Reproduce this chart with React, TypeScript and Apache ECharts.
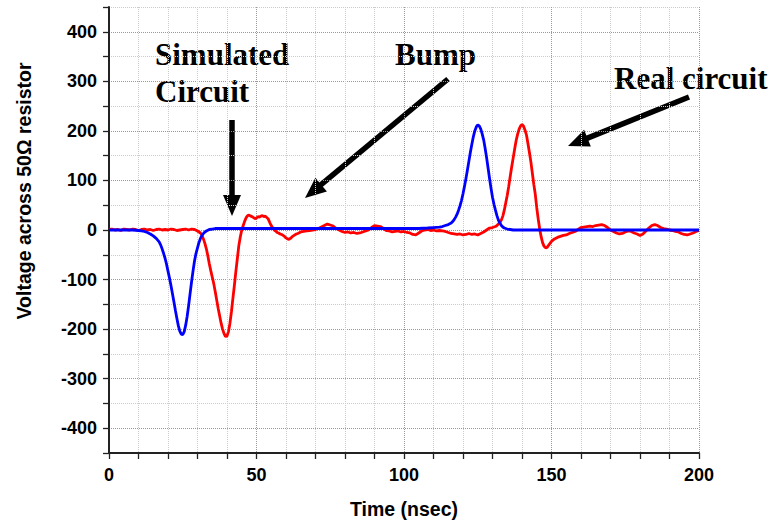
import React, { useEffect, useRef } from "react";
import * as echarts from "echarts";

// Measured (real circuit) trace: [time nsec, voltage]
const realCircuit: [number, number][] = [
  [0, 1], [1, 2], [2, 0], [3, 1], [4, -1], [5, 2], [6, 1], [7, 0], [8, 2], [9, 1],
  [10, -1], [11, 1], [12, 2], [13, 0], [14, 1], [15, -1], [16, 1], [17, 2], [18, 0], [19, 1],
  [20, 0], [21, 2], [22, 1], [23, -1], [24, 0], [25, 1], [26, 2], [27, 0], [28, 2], [29, 1],
  [30, -2], [30.5, -4], [31, -6], [31.5, -10], [32, -18], [32.5, -27], [33, -38], [33.5, -52],
  [34, -68], [34.5, -82], [35, -95], [35.5, -108], [36, -124], [36.5, -141], [37, -158],
  [37.5, -173], [38, -188], [38.5, -200], [39, -209], [39.5, -215], [40, -214], [40.5, -205],
  [41, -188], [41.5, -165], [42, -138], [42.5, -112], [43, -84], [43.5, -58], [44, -32],
  [44.5, -14], [45, 0], [45.5, 9], [46, 18], [46.5, 25], [47, 29], [47.5, 30], [48, 28],
  [48.5, 27], [49, 25], [49.5, 23], [50, 24], [50.5, 27], [51, 26], [51.5, 28], [52, 29],
  [52.5, 27], [53, 28], [53.5, 25], [54, 22], [54.5, 15], [55, 9], [55.5, 4], [56, 0],
  [56.5, -2], [57, -5], [57.5, -6], [58, -8], [58.5, -9], [59, -11], [59.5, -13], [60, -16],
  [60.5, -18], [61, -19], [61.5, -17], [62, -14], [62.5, -12], [63, -10], [63.5, -8], [64, -7],
  [65, -4], [66, -3], [67, -2], [68, -1], [69, 0], [70, 1], [71, 3], [72, 6], [73, 9], [74, 12],
  [75, 10], [76, 8], [77, 3], [78, 0], [79, -3], [80, -5], [81, -4], [82, -6], [83, -5], [84, -7],
  [85, -6], [86, -4], [87, -2], [88, 0], [89, 5], [90, 9], [91, 8], [92, 7], [93, 3], [94, -1],
  [95, -2], [96, -4], [97, -3], [98, -2], [99, -4], [100, -3], [101, -5], [102, -6], [103, -9],
  [104, -10], [105, -6], [106, -2], [107, 0], [108, 1], [109, -1], [110, 0], [111, -2], [112, -1],
  [113, -2], [114, -3], [115, -5], [116, -7], [117, -8], [118, -9], [119, -8], [120, -10],
  [121, -9], [122, -7], [123, -9], [124, -8], [125, -10], [126, -7], [127, -4], [128, 0], [129, 4],
  [130, 5], [131, 7], [131.5, 9], [132, 12], [132.5, 15], [133, 20], [133.5, 28], [134, 40],
  [134.5, 55], [135, 70], [135.5, 88], [136, 108], [136.5, 127], [137, 145], [137.5, 163],
  [138, 180], [138.5, 193], [139, 203], [139.5, 210], [140, 213], [140.5, 210], [141, 202],
  [141.5, 192], [142, 175], [142.5, 157], [143, 138], [143.5, 115], [144, 92], [144.5, 72],
  [145, 45], [145.5, 22], [146, 2], [146.5, -14], [147, -26], [147.5, -33], [148, -36],
  [148.5, -35], [149, -31], [149.5, -27], [150, -23], [151, -18], [152, -15], [153, -13],
  [154, -11], [155, -10], [156, -7], [157, -5], [158, -3], [159, 1], [160, 5], [161, 6], [162, 7],
  [163, 8], [164, 7], [165, 9], [166, 10], [167, 11], [168, 9], [169, 5], [170, 0], [171, -3],
  [172, -6], [173, -8], [174, -7], [175, -4], [176, -2], [177, -3], [178, -6], [179, -8],
  [180, -11], [181, -8], [182, -2], [183, 4], [184, 9], [185, 11], [186, 9], [187, 5], [188, 3],
  [189, 2], [190, 0], [191, -1], [192, -3], [193, -4], [194, -7], [195, -9], [196, -10],
  [197, -8], [198, -6], [199, -3], [200, -1],
];

// Simulated circuit trace: [time nsec, voltage]
const simulatedCircuit: [number, number][] = [
  [0, 0], [5, 0], [8, 0], [10, -1], [11, -2], [12, -3], [13, -5], [14, -8], [15, -12], [16, -17],
  [17, -24], [17.5, -30], [18, -38], [18.5, -47], [19, -57], [19.5, -69], [20, -83], [20.5, -97],
  [21, -112], [21.5, -128], [22, -145], [22.5, -162], [23, -178], [23.5, -193], [24, -204],
  [24.5, -210], [25, -211], [25.5, -205], [26, -192], [26.5, -174], [27, -152], [27.5, -128],
  [28, -104], [28.5, -82], [29, -62], [29.5, -47], [30, -36], [30.5, -25], [31, -17], [31.5, -11],
  [32, -7], [32.5, -4], [33, -2], [34, 1], [35, 2], [36, 3], [40, 3], [50, 3], [60, 3], [70, 3],
  [80, 3], [90, 3], [100, 3], [105, 3], [108, 4], [110, 5], [112, 6], [113, 7], [114, 9],
  [115, 11], [116, 14], [116.5, 17], [117, 21], [117.5, 26], [118, 32], [118.5, 40], [119, 49],
  [119.5, 60], [120, 73], [120.5, 88], [121, 104], [121.5, 121], [122, 139], [122.5, 157],
  [123, 173], [123.5, 188], [124, 200], [124.5, 208], [125, 212], [125.5, 210], [126, 204],
  [126.5, 194], [127, 182], [127.5, 165], [128, 146], [128.5, 125], [129, 104], [129.5, 84],
  [130, 66], [130.5, 52], [131, 40], [131.5, 29], [132, 20], [132.5, 14], [133, 9], [133.5, 6],
  [134, 4], [135, 2], [136, 1], [137, 0], [140, 0], [200, 0],
];

const xLabelStep = 50;
const yLabelStep = 100;

const annotations = [
  { lines: ["Simulated", "Circuit"], x: 155, y: 54.5 },
  { lines: ["Bump"], x: 395, y: 54.5 },
  { lines: ["Real circuit"], x: 614, y: 78.5 },
];

const arrows: [number, number, number, number][] = [
  [232, 120, 232, 216],
  [448, 79, 305, 198],
  [689, 97, 568, 146],
];

function arrowElements(x1: number, y1: number, x2: number, y2: number) {
  const dx = x2 - x1;
  const dy = y2 - y1;
  const len = Math.sqrt(dx * dx + dy * dy);
  const ux = dx / len;
  const uy = dy / len;
  const headLen = 21;
  const half = 9;
  const bx = x2 - ux * headLen;
  const by = y2 - uy * headLen;
  const nx = -uy;
  const ny = ux;
  return [
    {
      type: "line",
      shape: { x1, y1, x2: bx + ux * 2, y2: by + uy * 2 },
      style: { stroke: "#000", lineWidth: 5.5 },
    },
    {
      type: "polygon",
      shape: {
        points: [
          [x2, y2],
          [bx + nx * half, by + ny * half],
          [bx - nx * half, by - ny * half],
        ],
      },
      style: { fill: "#000" },
    },
  ];
}

export default function App() {
  const ref = useRef<HTMLDivElement>(null);
  useEffect(() => {
    if (!ref.current) return;
    const chart = echarts.init(ref.current, undefined, { renderer: "svg" });
    const graphics: any[] = [];
    annotations.forEach((a) => {
      a.lines.forEach((line, i) => {
        graphics.push({
          type: "text",
          x: a.x,
          y: a.y + i * 37,
          style: {
            text: line,
            font: 'bold 31px "Liberation Serif", "Times New Roman", serif',
            fill: "#000",
            align: "left",
            verticalAlign: "middle",
          },
        });
      });
    });
    arrows.forEach((a) => graphics.push(...arrowElements(a[0], a[1], a[2], a[3])));
    graphics.push({
      type: "text",
      x: 24,
      y: 191,
      rotation: Math.PI / 2,
      style: {
        text: "Voltage across 50Ω resistor",
        font: 'bold 19.5px "Liberation Sans", Arial, sans-serif',
        fill: "#000",
        align: "center",
        verticalAlign: "middle",
      },
    });

    chart.setOption({
      animation: false,
      backgroundColor: "#fff",
      grid: { left: 109, right: 74, top: 7, bottom: 72, containLabel: false },
      xAxis: {
        type: "value",
        min: 0,
        max: 200,
        interval: 10,
        name: "Time (nsec)",
        nameLocation: "middle",
        nameGap: 46,
        nameTextStyle: {
          fontFamily: '"Liberation Sans", Arial, sans-serif',
          fontWeight: "bold",
          fontSize: 19.5,
          color: "#000",
        },
        axisLine: { onZero: false, lineStyle: { color: "#222", width: 2 } },
        axisTick: { show: true, inside: false, length: 6, lineStyle: { color: "#222", width: 1.3 } },
        axisLabel: {
          margin: 13,
          fontFamily: '"Liberation Sans", Arial, sans-serif',
          fontWeight: "bold",
          fontSize: 18,
          color: "#000",
          formatter: (v: number) => (v % xLabelStep === 0 ? String(v) : ""),
        },
        splitLine: {
          show: true,
          lineStyle: { type: "dotted", width: 1, color: ["#999", "#ccc", "#ccc", "#ccc", "#ccc"] },
        },
      },
      yAxis: {
        type: "value",
        min: -450,
        max: 450,
        interval: 50,
        axisLine: { onZero: false, lineStyle: { color: "#222", width: 2 } },
        axisTick: { show: true, inside: false, length: 6, lineStyle: { color: "#222", width: 1.3 } },
        axisLabel: {
          margin: 12,
          fontFamily: '"Liberation Sans", Arial, sans-serif',
          fontWeight: "bold",
          fontSize: 18,
          color: "#000",
          formatter: (v: number) => (v % yLabelStep === 0 ? String(v) : ""),
        },
        splitLine: {
          show: true,
          lineStyle: { type: "dotted", width: 1, color: ["#ccc", "#999"] },
        },
      },
      series: [
        {
          name: "Real circuit",
          type: "line",
          data: realCircuit,
          showSymbol: false,
          lineStyle: { color: "#ff0000", width: 2.8 },
          z: 2,
        },
        {
          name: "Simulated circuit",
          type: "line",
          data: simulatedCircuit,
          showSymbol: false,
          lineStyle: { color: "#0000ff", width: 2.8 },
          z: 3,
        },
      ],
      graphic: graphics,
    });
    return () => chart.dispose();
  }, []);
  return (
    <div
      ref={ref}
      style={{ position: "fixed", left: 0, top: 0, width: 773, height: 525 }}
    />
  );
}
